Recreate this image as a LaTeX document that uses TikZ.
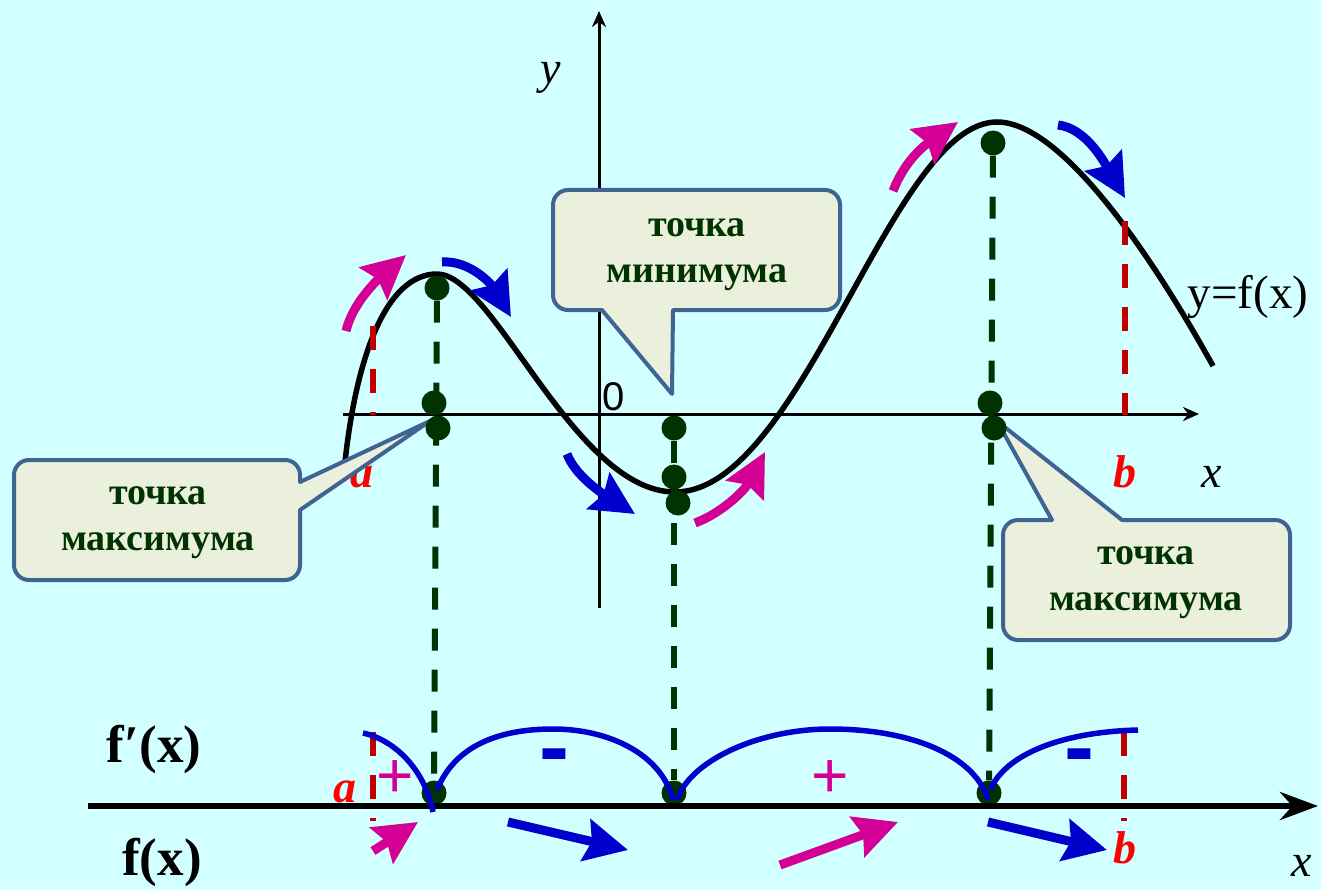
\documentclass[tikz,border=0pt]{standalone}
\usepackage{fontspec}
\setmainfont{Liberation Serif}
\setsansfont{Liberation Sans}
\usetikzlibrary{arrows.meta}
\definecolor{Bg}{HTML}{D2FFFF}
\definecolor{Pink}{HTML}{D40096}
\definecolor{Navy}{HTML}{0000CC}
\definecolor{Dark}{HTML}{003300}
\definecolor{Brick}{HTML}{C00000}
\definecolor{Cream}{HTML}{EAF0DC}
\definecolor{Slate}{HTML}{3F6493}

\begin{document}
\begin{tikzpicture}[x=1pt,y=-1pt,
    c/.style={draw=Slate,fill=Cream,line width=4pt,line join=round},
    t/.style={font=\fontsize{38}{46}\selectfont\bfseries,text=Dark,align=center},
    p/.style={circle,fill=Dark,inner sep=0pt,minimum size=25pt},
    g/.style={draw=Dark,line width=6pt,dash pattern=on 22pt off 19pt},
    rd/.style={draw=Brick,line width=6.5pt,dash pattern=on 24pt off 19pt},
    upa/.style={draw=Pink,line width=9pt,-{Stealth[length=43pt,width=42pt,inset=6pt]}},
    dna/.style={draw=Navy,line width=9pt,-{Stealth[length=43pt,width=42pt,inset=6pt]}},
    bl/.style={draw=Navy,line width=5.5pt},
    lbl/.style={font=\fontsize{46}{46}\selectfont\itshape},
    ab/.style={font=\fontsize{46}{46}\selectfont\bfseries\itshape,text=red},
    fn/.style={font=\fontsize{53}{53}\selectfont\bfseries}]
  \path[use as bounding box,fill=Bg] (0,0) rectangle (1321,890);
  % axes
  \draw[line width=3pt,-{Stealth[length=16pt,width=14pt]}] (343,414) -- (1199,414);
  \draw[line width=3pt,-{Stealth[length=16pt,width=14pt]}] (599,608) -- (599,11);
  % graph of f
  \draw[line width=5.5pt,line join=round] (345,462) .. controls (356,360) and (385,274) .. (437,274)
    .. controls (494,274) and (574,492) .. (675,492)
    .. controls (802,492) and (891,122) .. (997,122)
    .. controls (1065,122) and (1160,270) .. (1213,366);
  \node[font=\fontsize{47}{47}\selectfont] (fx) at (1248,297) {y=f(x)};
  \draw[rd] (373,326) -- (373,415);
  \draw[rd] (1125,221) -- (1125,415);
  \node[lbl] (ly) at (551,78) {y};
  \node[font=\sffamily\fontsize{40}{40}\selectfont] (l0) at (614,397) {0};
  \node[lbl] (lx) at (1212,477) {x};
  \node[ab] (la) at (362,477) {a};
  \node[ab] (lb) at (1125,472) {b};
  % rising / falling arrows
  \draw[upa] (346,331) .. controls (352,305) and (375,282) .. (406,255);
  \draw[dna] (442,262) .. controls (470,260) and (492,285) .. (511,317);
  \draw[dna] (567,454) .. controls (575,475) and (600,492) .. (635,514);
  \draw[upa] (695,523) .. controls (722,513) and (745,490) .. (765,452);
  \draw[upa] (893,191) .. controls (905,160) and (925,145) .. (958,122);
  \draw[dna] (1058,125) .. controls (1085,128) and (1103,160) .. (1125,198);
  % callouts
  \draw[c] (157,460) [rounded corners=15pt] -- (300,460) [sharp corners] -- (300,482) -- (430,421) -- (300,510)
    [rounded corners=15pt] -- (300,580) -- (14,580) -- (14,460) -- cycle;
  \node[t] (tmax1) at (158,523) {точка\\максимума};
  \draw[c] (697,190) [rounded corners=15pt] -- (840,190) -- (840,310) [sharp corners] -- (673,310) -- (672,394) -- (602,310)
    [rounded corners=15pt] -- (553,310) -- (553,190) -- cycle;
  \node[t] (tmin) at (697,255) {точка\\минимума};
  \draw[c] (1146,640) [rounded corners=15pt] -- (1003,640) -- (1003,520) [sharp corners] -- (1052,520) -- (997,421) -- (1122,520)
    [rounded corners=15pt] -- (1290,520) -- (1290,640) -- cycle;
  \node[t] (tmax2) at (1146,583) {точка\\максимума};
  % points
  \node[p] (max1) at (437,288) {};
  \node[p] (max1u) at (434,403) {};
  \node[p] (max1d) at (438,428) {};
  \node[p] (max1x) at (434,793) {};
  \node[p] (minu) at (674,428) {};
  \node[p] (min) at (674,477) {};
  \node[p] (mind) at (678,503) {};
  \node[p] (minx) at (674,793) {};
  \node[p] (max2) at (993,143) {};
  \node[p] (max2u) at (990,403) {};
  \node[p] (max2d) at (994,428) {};
  \node[p] (max2x) at (989,793) {};
  \draw[g] (max1) -- (max1x);
  \draw[g] (minu) -- (minx);
  \draw[g] (max2) -- (max2x);
  % sign line
  \draw[line width=6pt,-{Stealth[length=38pt,width=28pt]}] (88,806) -- (1318,806);
  \draw[rd] (373,732) -- (373,821);
  \draw[rd] (1124,732) -- (1124,821);
  \draw[bl] (363,733) .. controls (395,740) and (425,770) .. (433,812);
  \draw[bl] (437,790) .. controls (455,745) and (500,729) .. (553,729) .. controls (610,729) and (662,755) .. (673,800);
  \draw[bl] (677,800) .. controls (690,760) and (760,729) .. (830,729) .. controls (910,729) and (975,755) .. (988,800);
  \draw[bl] (990,790) .. controls (1005,755) and (1060,732) .. (1138,730);
  \node[text=Pink,font=\sffamily\fontsize{64}{64}\selectfont] (s1) at (395,779) {+};
  \node[text=Navy,font=\sffamily\bfseries\fontsize{90}{90}\selectfont] (s2) at (554,763) {-};
  \node[text=Pink,font=\sffamily\fontsize{64}{64}\selectfont] (s3) at (830,779) {+};
  \node[text=Navy,font=\sffamily\bfseries\fontsize{90}{90}\selectfont] (s4) at (1079,763) {-};
  \draw[upa] (373,851) -- (418,822);
  \draw[dna] (508,822) -- (628,850);
  \draw[upa] (780,865) -- (898,822);
  \draw[dna] (988,822) -- (1107,850);
  \node[fn] (fd) at (154,749) {f′(x)};
  \node[fn] (f) at (162,862) {f(x)};
  \node[ab] (la2) at (345,792) {a};
  \node[ab] (lb2) at (1125,848) {b};
  \node[lbl] (lx2) at (1302,866) {x};
\end{tikzpicture}
\end{document}
